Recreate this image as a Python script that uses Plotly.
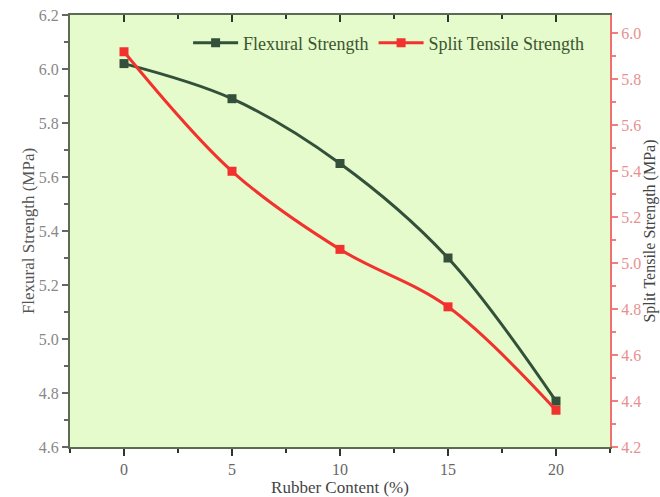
import plotly.graph_objects as go

rubber_content = [0, 5, 10, 15, 20]
flexural_strength = [6.02, 5.89, 5.65, 5.30, 4.77]
split_tensile_strength = [5.92, 5.40, 5.06, 4.81, 4.36]

x_ticks = [0, 5, 10, 15, 20]
left_ticks = [4.6, 4.8, 5.0, 5.2, 5.4, 5.6, 5.8, 6.0, 6.2]
right_ticks = [4.2, 4.4, 4.6, 4.8, 5.0, 5.2, 5.4, 5.6, 5.8, 6.0]

GREEN = "#34503a"
RED = "#f2322e"
AXIS = "#5c6b55"
FONT = "Liberation Serif"

fig = go.Figure()
fig.add_trace(go.Scatter(
    x=rubber_content, y=flexural_strength, name="Flexural Strength",
    mode="lines+markers", line=dict(color=GREEN, width=3, shape="spline", smoothing=1.0),
    marker=dict(symbol="square", size=9, color=GREEN),
    xaxis="x", yaxis="y"))
fig.add_trace(go.Scatter(
    x=rubber_content, y=split_tensile_strength, name="Split Tensile Strength",
    mode="lines+markers", line=dict(color=RED, width=3, shape="spline", smoothing=1.0),
    marker=dict(symbol="square", size=9, color=RED),
    xaxis="x", yaxis="y2"))
# empty trace to show the top mirrored axis with inward ticks
fig.add_trace(go.Scatter(x=[], y=[], xaxis="x2", yaxis="y", showlegend=False, hoverinfo="skip"))

fig.update_layout(
    width=660, height=497,
    margin=dict(l=70, r=50, t=15, b=50, autoexpand=False),
    paper_bgcolor="white",
    plot_bgcolor="#e5fbcb",
    font=dict(family=FONT, size=16, color="#777777"),
    showlegend=True,
    legend=dict(orientation="h", x=0.59, xanchor="center", y=0.935, yanchor="middle",
                bgcolor="rgba(0,0,0,0)", font=dict(family=FONT, size=18, color="#3b5530"),
                itemwidth=45, tracegroupgap=0),
    xaxis=dict(range=[-2.5, 22.5], tickvals=x_ticks, ticks="outside", ticklen=7, tickwidth=2,
               tickcolor="#333333", showline=True, linecolor=AXIS, linewidth=2,
               showgrid=False, zeroline=False, automargin=False,
               minor=dict(dtick=2.5, tick0=0, ticks="outside", ticklen=4, tickcolor="#333333", tickwidth=1.5),
               title=dict(text="Rubber Content (%)", font=dict(family=FONT, size=17, color="#444444"), standoff=0),
               tickfont=dict(family=FONT, size=16, color="#666666")),
    xaxis2=dict(range=[-2.5, 22.5], overlaying="x", side="top", anchor="y", tickvals=x_ticks,
                ticks="inside", ticklen=7, tickwidth=2, tickcolor="#333333",
                showticklabels=False, showline=True, linecolor=AXIS, linewidth=2,
                showgrid=False, zeroline=False, automargin=False,
                minor=dict(dtick=2.5, tick0=0, ticks="inside", ticklen=4, tickcolor="#333333", tickwidth=1.5)),
    yaxis=dict(range=[4.6, 6.2], tickvals=left_ticks, tickformat=".1f", ticks="outside", ticklen=6,
               tickcolor="#666666", tickwidth=1.5, showline=True, linecolor=AXIS, linewidth=2,
               showgrid=False, zeroline=False, automargin=False, ticklabeloverflow="allow",
               minor=dict(dtick=0.1, tick0=4.6, ticks="outside", ticklen=4, tickcolor="#666666"),
               title=dict(text="Flexural Strength (MPa)", font=dict(family=FONT, size=17, color="#555555"), standoff=0),
               tickfont=dict(family=FONT, size=16, color="#888888")),
    yaxis2=dict(range=[4.2, 6.08], overlaying="y", side="right", anchor="x", tickvals=right_ticks,
                tickformat=".1f", ticks="outside", ticklen=6, tickcolor="#f08080", tickwidth=1.5,
                showline=True, linecolor="#f07070", linewidth=2, showgrid=False, zeroline=False,
                automargin=False, ticklabeloverflow="allow",
                minor=dict(dtick=0.1, tick0=4.2, ticks="outside", ticklen=4, tickcolor="#f08080"),
                title=dict(text="Split Tensile Strength (MPa)", font=dict(family=FONT, size=16, color="#444444"), standoff=0),
                tickfont=dict(family=FONT, size=16, color="#e89090")),
)

fig.write_html("out.html",
               config={"displayModeBar": False},
               post_script="document.body.style.margin='0';document.body.style.overflow='hidden';")
